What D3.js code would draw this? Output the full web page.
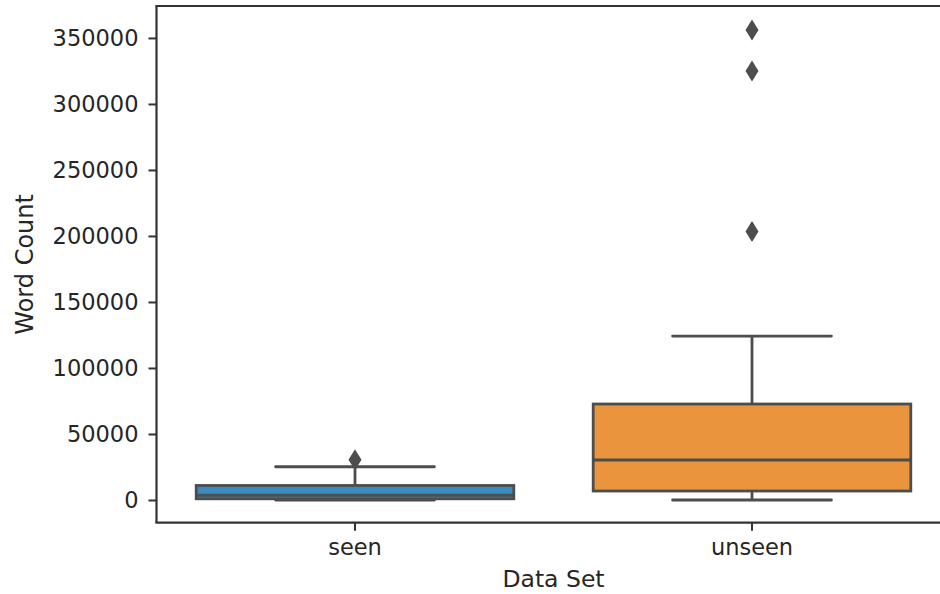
<!DOCTYPE html>
<html>
<head>
<meta charset="utf-8">
<script src="https://d3js.org/d3.v7.min.js"></script>
<style>
  body { margin: 0; background: #fff; }
  text { font-family: "DejaVu Sans", sans-serif; fill: #262626; }
</style>
</head>
<body>
<div id="my_dataviz"></div>
<script>
    // data
    var categories = ["seen", "unseen"];
    var q1 = [900, 6800];
    var medians = [3600, 30300];
    var q3 = [11000, 72700];
    var whiskerLow = [0, 0];
    var whiskerHigh = [25200, 124200];
    var outliers = [[30500], [203300, 325000, 356000]];
    var yTicks = [0, 50000, 100000, 150000, 200000, 250000, 300000, 350000];
    var colors = ["#3a8cc0", "#ea943e"];

    var W = 940, H = 594;
    // plot area (right edge of axes runs past the window like in the reference)
    var plotL = 156.5, plotR = 950.5, plotT = 6, plotB = 522.7;

    var svg = d3.select("#my_dataviz")
        .append("svg")
        .attr("width", W)
        .attr("height", H);

    var x = d3.scaleBand()
        .domain(categories)
        .range([plotL, plotR])
        .padding(0);

    var y = d3.scaleLinear()
        .domain([-17200, 374200])
        .range([plotB, plotT]);

    var boxW = x.bandwidth() * 0.8;
    var capW = boxW / 2;
    var lineCol = "#4d4d4d";
    var lw = 2.8;

    var boxes = svg.append("g");
    categories.forEach(function(c, i) {
        var cx = x(c) + x.bandwidth() / 2;
        var g = boxes.append("g");
        // whiskers
        g.append("line")
            .attr("x1", cx).attr("x2", cx)
            .attr("y1", y(q3[i])).attr("y2", y(whiskerHigh[i]))
            .attr("stroke", lineCol).attr("stroke-width", lw);
        g.append("line")
            .attr("x1", cx).attr("x2", cx)
            .attr("y1", y(q1[i])).attr("y2", y(whiskerLow[i]))
            .attr("stroke", lineCol).attr("stroke-width", lw);
        // caps
        [whiskerHigh[i], whiskerLow[i]].forEach(function(v) {
            g.append("line")
                .attr("x1", cx - capW / 2).attr("x2", cx + capW / 2)
                .attr("y1", y(v)).attr("y2", y(v))
                .attr("stroke", lineCol).attr("stroke-width", lw)
                .attr("stroke-linecap", "round");
        });
        // box
        g.append("rect")
            .attr("x", cx - boxW / 2)
            .attr("y", y(q3[i]))
            .attr("width", boxW)
            .attr("height", y(q1[i]) - y(q3[i]))
            .attr("fill", colors[i])
            .attr("stroke", lineCol).attr("stroke-width", lw);
        // median
        g.append("line")
            .attr("x1", cx - boxW / 2).attr("x2", cx + boxW / 2)
            .attr("y1", y(medians[i])).attr("y2", y(medians[i]))
            .attr("stroke", lineCol).attr("stroke-width", lw);
        // outliers as thin diamonds
        g.selectAll("path.out")
            .data(outliers[i])
            .enter()
            .append("path")
            .attr("d", function(v) {
                var py = y(v);
                return "M" + cx + "," + (py - 10.5) + "L" + (cx + 6.5) + "," + py +
                       "L" + cx + "," + (py + 10.5) + "L" + (cx - 6.5) + "," + py + "Z";
            })
            .attr("fill", lineCol);
    });

    // spines
    var spineCol = "#333";
    svg.append("line").attr("x1", plotL).attr("x2", plotL).attr("y1", plotT).attr("y2", plotB)
        .attr("stroke", spineCol).attr("stroke-width", 2.2);
    svg.append("line").attr("x1", plotL - 1.1).attr("x2", plotR).attr("y1", plotB).attr("y2", plotB)
        .attr("stroke", spineCol).attr("stroke-width", 2.2);
    svg.append("line").attr("x1", plotL - 1.1).attr("x2", plotR).attr("y1", plotT).attr("y2", plotT)
        .attr("stroke", spineCol).attr("stroke-width", 2.2);

    // Y axis
    var yAxis = svg.append("g")
        .attr("transform", "translate(" + plotL + ",0)")
        .call(d3.axisLeft(y).tickValues(yTicks).tickFormat(d3.format("d")).tickSize(8).tickPadding(10));
    yAxis.select(".domain").remove();
    yAxis.selectAll(".tick line").attr("stroke", spineCol).attr("stroke-width", 2);
    yAxis.selectAll(".tick text")
        .style("font-family", "DejaVu Sans").style("font-size", "22.5px").attr("fill", "#262626");

    // X axis
    var xAxis = svg.append("g")
        .attr("transform", "translate(0," + plotB + ")")
        .call(d3.axisBottom(x).tickSize(8).tickPadding(8));
    xAxis.select(".domain").remove();
    xAxis.selectAll(".tick line").attr("stroke", spineCol).attr("stroke-width", 2);
    xAxis.selectAll(".tick text")
        .style("font-family", "DejaVu Sans").style("font-size", "22.5px").attr("fill", "#262626");

    // axis titles
    svg.append("text")
        .attr("x", (plotL + plotR) / 2)
        .attr("y", 587)
        .style("text-anchor", "middle")
        .style("font-size", "23.5px")
        .text("Data Set");

    svg.append("text")
        .attr("transform", "rotate(-90)")
        .attr("x", -(plotT + plotB) / 2)
        .attr("y", 33)
        .style("text-anchor", "middle")
        .style("font-size", "24px")
        .text("Word Count");
</script>
</body>
</html>
